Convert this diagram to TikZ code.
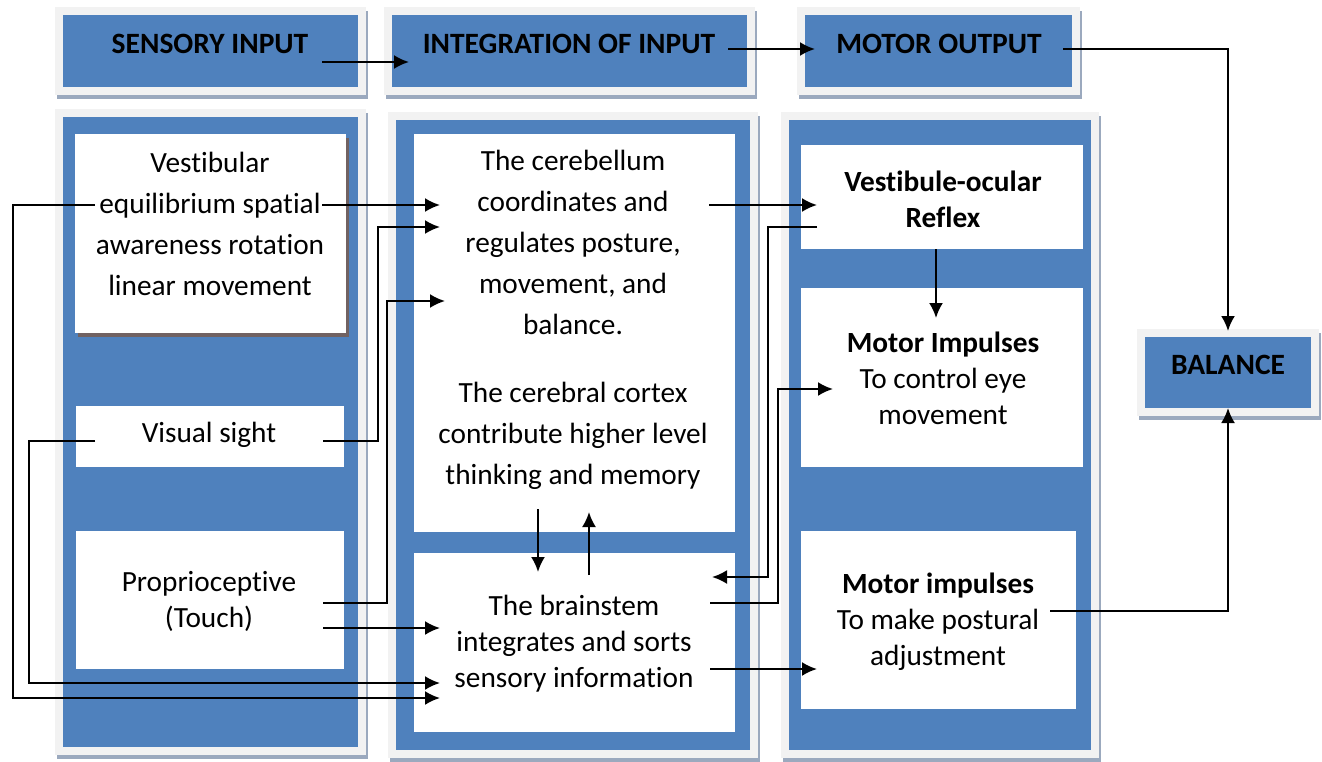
\documentclass[tikz,border=0pt]{standalone}
\usepackage{fontspec}
\setmainfont[Ligatures=NoCommon]{Carlito}
\usetikzlibrary{arrows.meta}
\definecolor{wordblue}{HTML}{4F81BD}
\definecolor{framegray}{HTML}{F2F2F2}
\definecolor{shadowblue}{HTML}{9BA9BE}
\definecolor{shadowbrown}{HTML}{716262}
\newcommand{\bodyfont}{\fontsize{29.3}{41}\selectfont}
\newcommand{\tightfont}{\fontsize{29.3}{36}\selectfont}
\newcommand{\headfont}{\fontsize{29.5}{36}\selectfont\bfseries}

\begin{document}
\begin{tikzpicture}[x=1pt, y=-1pt, >={Latex[length=15pt,width=14pt]}]
\tikzstyle{pnl} = [rectangle, fill=wordblue, inner sep=0pt,
  preaction={draw=shadowblue, line width=16pt, transform canvas={shift={(2pt,-4pt)}}},
  preaction={draw=framegray, line width=16pt}]
\tikzstyle{wb} = [rectangle, fill=white, inner sep=0pt]
\tikzstyle{wbs} = [wb, preaction={fill=shadowbrown, transform canvas={shift={(3pt,-4pt)}}}]
\tikzstyle{txt} = [font=\bodyfont, align=center, inner sep=0pt]
\tikzstyle{ttxt} = [font=\tightfont, align=center, inner sep=0pt]
\tikzstyle{htxt} = [font=\headfont, align=center, inner sep=0pt]
\tikzstyle{e} = [draw=black, line width=2.2pt]

\useasboundingbox (0,0) rectangle (1322,761);

% headings
\node[pnl, minimum width=295, minimum height=72] (sensH) at (210.5,51) {};
\node[pnl, minimum width=355, minimum height=72] (integH) at (569.5,51) {};
\node[pnl, minimum width=267, minimum height=72] (motorH) at (938.5,51) {};
\node[pnl, minimum width=166, minimum height=71] (balH) at (1228,372.5) {};
\node[htxt] (sensT) at (210,44) {SENSORY INPUT};
\node[htxt] (integT) at (569,44) {INTEGRATION OF INPUT};
\node[htxt] (motorT) at (939,44) {MOTOR OUTPUT};
\node[htxt] (balT) at (1228,365) {BALANCE};

% columns
\node[pnl, minimum width=295, minimum height=630] (sensP) at (210.5,432) {};
\node[pnl, minimum width=354, minimum height=630] (integP) at (573,435) {};
\node[pnl, minimum width=302, minimum height=630] (motorP) at (940,435) {};

\node[wbs, minimum width=271, minimum height=199] (vest) at (210.5,233.5) {};
\node[wb, minimum width=268, minimum height=61] (vis) at (210,436.5) {};
\node[wb, minimum width=268, minimum height=138] (prop) at (210,600) {};
\node[wb, minimum width=321, minimum height=398] (cereb) at (574.5,333) {};
\node[wb, minimum width=321, minimum height=179] (brain) at (574.5,642.5) {};
\node[wb, minimum width=282, minimum height=104] (vor) at (942,197) {};
\node[wb, minimum width=282, minimum height=179] (mimp) at (942,377.5) {};
\node[wb, minimum width=275, minimum height=178] (mpost) at (938.5,620) {};

\node[txt] (vestT) at (210,224) {Vestibular\\equilibrium spatial\\awareness rotation\\linear movement};
\node[txt] (visT) at (209,435) {Visual sight};
\node[ttxt] (propT) at (209,601) {Proprioceptive\\(Touch)};
\node[txt] (cerebT) at (573,319.5) {The cerebellum\\coordinates and\\regulates posture,\\movement, and\\balance.\\[27pt]The cerebral cortex\\contribute higher level\\thinking and memory};
\node[ttxt] (brainT) at (574,644) {The brainstem\\integrates and sorts\\sensory information};
\node[ttxt] (vorT) at (943,199) {\textbf{Vestibule-ocular}\\\textbf{Reflex}};
\node[ttxt] (mimpT) at (943,378) {\textbf{Motor Impulses}\\To control eye\\movement};
\node[ttxt] (mpostT) at (938,622) {\textbf{Motor impulses}\\To make postural\\adjustment};

% ports
\coordinate (sensA) at (322,62);
\coordinate (integA) at (409,62);
\coordinate (integB) at (728,49);
\coordinate (motorA) at (815,49);
\coordinate (motorB) at (1063,49);
\coordinate (balTop) at (1228,331);
\coordinate (balBot) at (1228,408);
\coordinate (vestR) at (322,205);
\coordinate (vestL) at (95,205);
\coordinate (visR) at (323,441);
\coordinate (visL) at (95,441);
\coordinate (propR) at (323,603);
\coordinate (propA) at (323,628);
\coordinate (cbIn1) at (440,205);
\coordinate (cbIn2) at (440,227);
\coordinate (cbIn3) at (445,301);
\coordinate (cbOut) at (709,205);
\coordinate (cbDown) at (538,509);
\coordinate (cbUp) at (589,512);
\coordinate (brIn1) at (440,628);
\coordinate (brIn2) at (440,683);
\coordinate (brIn3) at (440,698);
\coordinate (brIn4) at (712,577);
\coordinate (brUp) at (589,575);
\coordinate (brDown) at (538,572);
\coordinate (brOut1) at (710,603);
\coordinate (brOut2) at (710,669);
\coordinate (vorIn) at (817,205);
\coordinate (vorOut) at (817,227);
\coordinate (vorDown) at (936,249);
\coordinate (mimpIn) at (833,389);
\coordinate (mimpTop) at (936,318);
\coordinate (mpostIn) at (817,669);
\coordinate (mpostOut) at (1050,611);

% connectors
\draw[e, ->] (sensA) -- (integA);
\draw[e, ->] (integB) -- (motorA);
\draw[e, ->] (motorB) -| (balTop);
\draw[e, ->] (mpostOut) -| (balBot);
\draw[e, ->] (vestR) -- (cbIn1);
\draw[e, ->] (vestL) -- ++(-82,0) |- (brIn3);
\draw[e, ->] (visR) -- ++(55,0) |- (cbIn2);
\draw[e, ->] (visL) -- ++(-66,0) |- (brIn2);
\draw[e, ->] (propR) -- ++(64,0) |- (cbIn3);
\draw[e, ->] (propA) -- (brIn1);
\draw[e, ->] (cbOut) -- (vorIn);
\draw[e, ->] (vorOut) -- ++(-49,0) |- (brIn4);
\draw[e, ->] (brOut1) -- ++(68,0) |- (mimpIn);
\draw[e, ->] (brOut2) -- (mpostIn);
\draw[e, ->] (cbDown) -- (brDown);
\draw[e, ->] (brUp) -- (cbUp);
\draw[e, ->] (vorDown) -- (mimpTop);
\end{tikzpicture}
\end{document}
